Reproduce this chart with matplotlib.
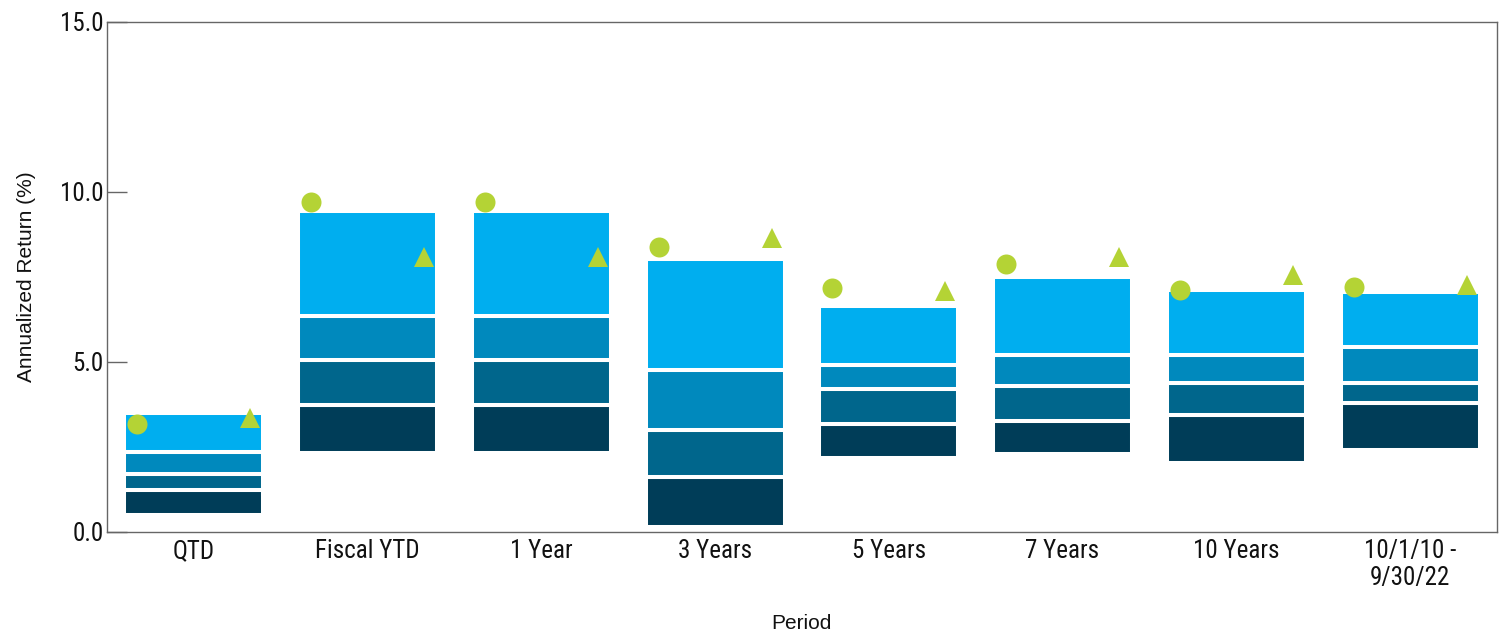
import matplotlib
matplotlib.use("Agg")
import matplotlib.pyplot as plt
from matplotlib import font_manager
from matplotlib.font_manager import FontProperties
import numpy as np

# Return percentiles of the peer universe for each period (%)
periods = ["QTD", "Fiscal YTD", "1 Year", "3 Years", "5 Years", "7 Years",
           "10 Years", "10/1/10 -\n9/30/22"]
p05 = [0.50, 2.33, 2.33, 0.14, 2.16, 2.29, 2.02, 2.42]
p25 = [1.22, 3.73, 3.73, 1.63, 3.17, 3.26, 3.43, 3.79]
p50 = [1.70, 5.05, 5.05, 2.99, 4.20, 4.30, 4.37, 4.39]
p75 = [2.36, 6.34, 6.34, 4.75, 4.90, 5.20, 5.20, 5.44]
p95 = [3.49, 9.44, 9.44, 8.03, 6.64, 7.48, 7.10, 7.06]

# Fund (circle) and benchmark (triangle) returns
fund = [3.18, 9.69, 9.69, 8.37, 7.17, 7.86, 7.10, 7.19]
benchmark = [3.34, 8.08, 8.08, 8.63, 7.07, 8.08, 7.54, 7.26]

y_ticks = [0.0, 5.0, 10.0, 15.0]

band_colors = ["#003D58", "#00668C", "#0089BD", "#00AEEF"]
marker_color = "#B4D335"


def pick_narrow_font():
    """Find a condensed sans face for the tick labels, if one is installed."""
    entries = font_manager.fontManager.ttflist
    wanted = ["Liberation Sans Narrow", "Arial Narrow", "Roboto Condensed",
              "Open Sans Condensed", "DejaVu Sans Condensed"]
    for name in wanted:
        for e in entries:
            if e.name == name and e.weight in (400, "normal", "regular") \
                    and e.style == "normal":
                return FontProperties(fname=e.fname, size=18)
    for e in entries:
        if e.name in ("DejaVu Sans", "Open Sans", "Roboto") and \
                str(e.stretch) in ("condensed", "semi-condensed", "87.5", "75") and \
                e.style == "normal" and e.weight in (400, "normal"):
            return FontProperties(fname=e.fname, size=17)
    return FontProperties(family="Liberation Sans", size=16)


tick_font = pick_narrow_font()
title_font = FontProperties(family="Liberation Sans", size=15)

fig = plt.figure(figsize=(15.04, 6.33), dpi=100)
ax = fig.add_axes([0.0711, 0.1596, 0.9242, 0.8064])

x = np.arange(len(periods))
bounds = [p05, p25, p50, p75, p95]
for i in range(4):
    lo = np.array(bounds[i])
    hi = np.array(bounds[i + 1])
    ax.bar(x, hi - lo, bottom=lo, width=0.8, color=band_colors[i],
           edgecolor="white", linewidth=2.9, zorder=2)

ax.plot(x - 0.325, fund, linestyle="none", marker="o", markersize=14.4,
        color=marker_color, markeredgewidth=0, zorder=3)
ax.plot(x + 0.325, benchmark, linestyle="none", marker="^", markersize=13.8,
        color=marker_color, markeredgewidth=0, zorder=3)

ax.set_xlim(-0.5, len(periods) - 0.5)
ax.set_ylim(0, 15)
ax.set_yticks(y_ticks)
ax.set_yticklabels([f"{v:.1f}" for v in y_ticks], fontproperties=tick_font)
ax.set_xticks(x)
ax.set_xticklabels(periods, fontproperties=tick_font, linespacing=1.15)

ax.tick_params(axis="y", direction="in", length=14.5, width=1, color="#666666",
               pad=2.5, labelcolor="#111111")
ax.tick_params(axis="x", length=0, pad=5, labelcolor="#111111")

for s in ax.spines.values():
    s.set_color("#666666")
    s.set_linewidth(1)

ax.set_ylabel("Annualized Return (%)", fontproperties=title_font, color="#111111")
ax.set_xlabel("Period", fontproperties=title_font, color="#111111")
ax.yaxis.set_label_coords(-0.051, 0.5)
ax.xaxis.set_label_coords(0.5, -0.161)

fig.savefig("out.png", dpi=100)
